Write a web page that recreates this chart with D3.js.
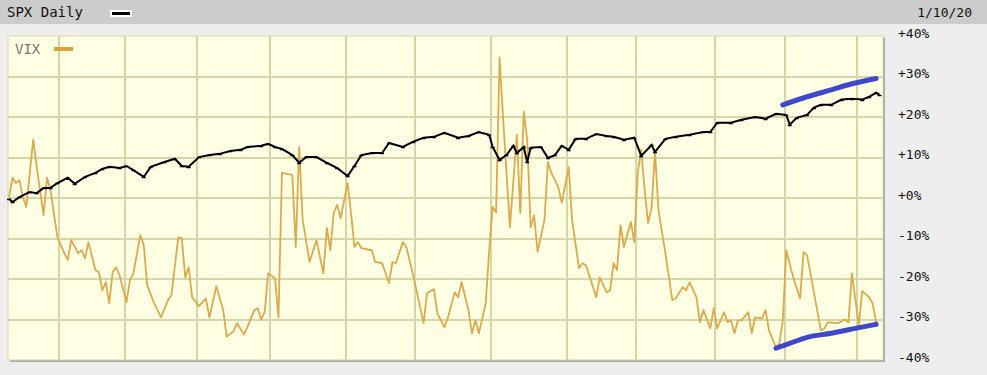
<!DOCTYPE html>
<html>
<head>
<meta charset="utf-8">
<script src="https://cdn.jsdelivr.net/npm/d3@7"></script>
<style>
  body { margin: 0; background: #eeeeee; }
  svg { display: block; }
  text { font-family: "DejaVu Sans Mono", monospace; }
</style>
</head>
<body>
<div id="chart"></div>
<script>
"use strict";

// SPX daily vs VIX, % change from 1/10/19, x = trading day number (0 = 1/10/19)
const spxDays = [0,1,3,6,8,10,12,14,17,19,22,25,27,29,32,34,36,39,41,45,48,50,52,55,58,61,64,67,69,73,75,77,79,82,84,86,89,92,95,98,100,102,105,108,110,114,117,120,123,126,130,133,136,139,140,142,144,146,147,149,150,151,154,156,158,160,162,164,167,170,173,175,178,181,183,186,187,190,193,197,201,203,205,209,212,216,219,222,225,226,228,231,233,235,238,241,244,247,249,251,252];
const spxPct = [-0.2,-1.0,0.2,1.5,1.2,2.5,2.5,3.7,5.0,3.5,5.2,6.2,7.2,7.7,7.4,7.9,6.9,5.2,7.7,8.9,9.7,7.9,7.7,10.1,10.6,10.9,11.6,11.9,12.6,12.9,13.4,12.6,12.1,10.6,8.7,10.1,10.1,8.7,7.4,5.4,7.9,10.6,11.1,11.1,13.6,12.6,13.9,14.9,15.1,16.1,14.9,15.3,16.3,15.6,12.6,9.4,10.6,12.9,11.1,12.6,8.9,12.4,12.6,9.9,10.6,12.9,11.9,14.6,14.6,15.8,15.3,15.1,14.4,14.9,10.4,13.1,11.4,14.6,15.1,15.6,16.3,16.3,18.6,18.6,19.3,20.0,19.6,20.8,20.5,18.1,19.8,20.5,22.3,23.0,23.0,24.3,24.5,24.3,25.0,26.0,25.5];

const vixDays = [0,1,2,3,4,5,7,8,10,11,12,14,16,17,18,20,21,22,23,25,26,27,28,29,30,31,32,34,35,36,38,39,40,42,44,46,47,49,50,51,52,53,55,57,58,60,62,63,65,66,68,69,71,72,73,74,75,77,78,79,82,83,84,85,87,89,91,92,93,94,95,96,98,99,100,101,102,105,106,108,110,111,112,114,115,117,120,121,123,124,126,127,129,130,131,133,134,135,136,138,139,140,141,142,143,145,147,148,149,150,151,152,153,155,156,157,159,160,162,163,165,166,167,170,171,173,174,175,176,177,178,180,181,182,183,184,185,186,187,188,190,192,193,195,196,197,199,200,201,203,204,205,207,208,209,210,211,212,214,215,216,218,219,220,222,223,224,225,227,229,230,231,232,235,236,237,240,242,243,244,246,247,249,250,251];
const vixPct = [0.2,5.0,3.7,4.4,0.2,-2.2,14.4,7.7,-4.2,5.0,2.0,-9.7,-13.6,-15.3,-10.4,-13.6,-12.9,-14.9,-10.9,-17.8,-18.3,-22.8,-20.8,-26.0,-18.3,-17.1,-19.1,-25.7,-20.3,-18.6,-9.2,-11.6,-21.5,-26.0,-29.5,-25.2,-24.0,-9.7,-9.9,-19.6,-17.1,-24.5,-26.7,-24.8,-29.5,-21.8,-27.7,-34.2,-32.9,-30.9,-33.7,-31.9,-27.7,-27.2,-30.0,-28.2,-18.6,-19.8,-29.5,6.2,5.7,-12.1,12.6,-5.4,-15.8,-10.4,-18.6,-7.4,-12.9,-3.7,-1.7,-5.0,3.7,-3.7,-12.1,-10.9,-12.4,-12.9,-15.8,-16.1,-21.0,-15.8,-16.1,-10.9,-12.1,-19.1,-30.9,-23.5,-22.5,-28.5,-31.9,-29.7,-23.3,-24.5,-20.8,-27.7,-33.4,-30.2,-33.4,-26.0,-12.9,-2.2,-3.5,34.7,20.0,-7.2,15.6,-3.7,21.3,14.4,-7.2,-4.2,-13.3,-5.4,8.9,6.2,2.7,-1.2,7.7,-5.4,-17.3,-16.1,-16.6,-24.5,-19.6,-23.3,-22.8,-16.1,-17.8,-6.7,-12.1,-5.9,-10.9,6.2,11.9,2.0,-6.2,-2.5,11.4,-3.0,-13.6,-25.2,-24.8,-22.0,-22.8,-20.8,-24.5,-30.7,-27.7,-32.2,-27.2,-32.2,-28.2,-30.7,-30.2,-33.4,-30.2,-30.2,-28.2,-33.4,-29.5,-29.7,-27.7,-32.7,-36.9,-35.9,-30.2,-12.9,-19.6,-24.8,-13.4,-14.1,-18.6,-32.7,-32.2,-30.7,-30.9,-30.0,-30.7,-18.6,-31.4,-23.0,-24.5,-26.0,-30.7];

// hand-drawn blue trend marks
const upperTrendDays = [224, 231, 238, 244, 251];
const upperTrendPct = [23.0, 25.0, 26.7, 28.2, 29.5];
const lowerTrendDays = [222, 226, 231, 238, 245, 251];
const lowerTrendPct = [-37.1, -35.9, -34.4, -33.4, -32.2, -31.2];

// first trading day of each month (Feb .. Jan)
const monthStarts = [15, 34, 55, 76, 98, 118, 140, 162, 182, 205, 225, 246];
const yTicks = [40, 30, 20, 10, 0, -10, -20, -30, -40];

const width = 987, height = 375;
const plot = { left: 8, right: 883, top: 36, bottom: 360 };

const svg = d3.select("#chart").append("svg")
  .attr("width", width)
  .attr("height", height);

// header band
svg.append("rect").attr("x", 0).attr("y", 0).attr("width", width).attr("height", 24).attr("fill", "#cccccc");
svg.append("text").attr("x", 7).attr("y", 17).attr("font-size", "14px").attr("fill", "#111").text("SPX Daily");
svg.append("rect").attr("x", 110).attr("y", 10).attr("width", 22).attr("height", 7).attr("fill", "#fff");
svg.append("rect").attr("x", 112).attr("y", 12).attr("width", 18).attr("height", 3).attr("fill", "#000");
svg.append("text").attr("x", 972).attr("y", 17).attr("text-anchor", "end").attr("font-size", "13px").attr("fill", "#111").text("1/10/20");

const x = d3.scaleLinear().domain([-0.3, 253]).range([plot.left, plot.right]);
const y = d3.scaleLinear().domain([-40, 40]).range([plot.bottom, plot.top]);

// plot frame with shadow
svg.append("rect")
  .attr("x", plot.left + 2).attr("y", plot.top + 2)
  .attr("width", plot.right - plot.left).attr("height", plot.bottom - plot.top)
  .attr("fill", "#a8a8a8");
svg.append("rect")
  .attr("x", plot.left).attr("y", plot.top)
  .attr("width", plot.right - plot.left).attr("height", plot.bottom - plot.top)
  .attr("fill", "#ffffe3")
  .attr("stroke", "#d8d8a8");

const grid = svg.append("g").attr("stroke", "#d6d6a6").attr("stroke-width", 2);
grid.selectAll("line.v").data(monthStarts).enter().append("line")
  .attr("x1", d => Math.round(x(d - 0.5))).attr("x2", d => Math.round(x(d - 0.5)))
  .attr("y1", plot.top).attr("y2", plot.bottom);
grid.selectAll("line.h").data(yTicks.filter(t => t > -40 && t < 40)).enter().append("line")
  .attr("x1", plot.left).attr("x2", plot.right)
  .attr("y1", d => Math.round(y(d))).attr("y2", d => Math.round(y(d)));

// right axis labels
const yAxis = d3.axisRight(y).tickValues(yTicks).tickSize(0).tickPadding(0)
  .tickFormat(d => (d >= 0 ? "+" : "") + d + "%");
const ya = svg.append("g").attr("transform", `translate(898,0)`).call(yAxis);
ya.select(".domain").remove();
ya.selectAll("text").attr("font-family", "DejaVu Sans Mono, monospace")
  .attr("font-size", "13px").attr("fill", "#111").attr("dy", "0.1em");

// VIX legend
svg.append("text").attr("x", 15).attr("y", 54).attr("font-size", "14px").attr("fill", "#777").text("VIX");
svg.append("rect").attr("x", 54).attr("y", 47).attr("width", 19).attr("height", 4).attr("fill", "#d9a23c");

const vixLine = d3.line().x((d, i) => x(vixDays[i])).y(d => y(d));
svg.append("path").datum(vixPct)
  .attr("d", vixLine)
  .attr("fill", "none")
  .attr("stroke", "#dcaa4e")
  .attr("stroke-width", 1.8)
  .attr("stroke-linejoin", "round");

// SPX as a jagged daily line with small close ticks
const spxLine = d3.line().x((d, i) => x(spxDays[i])).y(d => y(d));
svg.append("path").datum(spxPct)
  .attr("d", spxLine)
  .attr("fill", "none")
  .attr("stroke", "#000")
  .attr("stroke-width", 2);
svg.append("g").selectAll("line").data(spxPct).enter().append("line")
  .attr("x1", (d, i) => x(spxDays[i]) - 2)
  .attr("x2", (d, i) => x(spxDays[i]) + 2)
  .attr("y1", d => Math.round(y(d)) + 0.5)
  .attr("y2", d => Math.round(y(d)) + 0.5)
  .attr("stroke", "#000")
  .attr("stroke-width", 1.5);

const trend = d3.line().curve(d3.curveMonotoneX);
svg.append("path")
  .attr("d", trend(upperTrendDays.map((d, i) => [x(d), y(upperTrendPct[i])])))
  .attr("fill", "none").attr("stroke", "#3f48cc").attr("stroke-width", 5).attr("stroke-linecap", "round");
svg.append("path")
  .attr("d", trend(lowerTrendDays.map((d, i) => [x(d), y(lowerTrendPct[i])])))
  .attr("fill", "none").attr("stroke", "#3f48cc").attr("stroke-width", 5).attr("stroke-linecap", "round");
</script>
</body>
</html>
